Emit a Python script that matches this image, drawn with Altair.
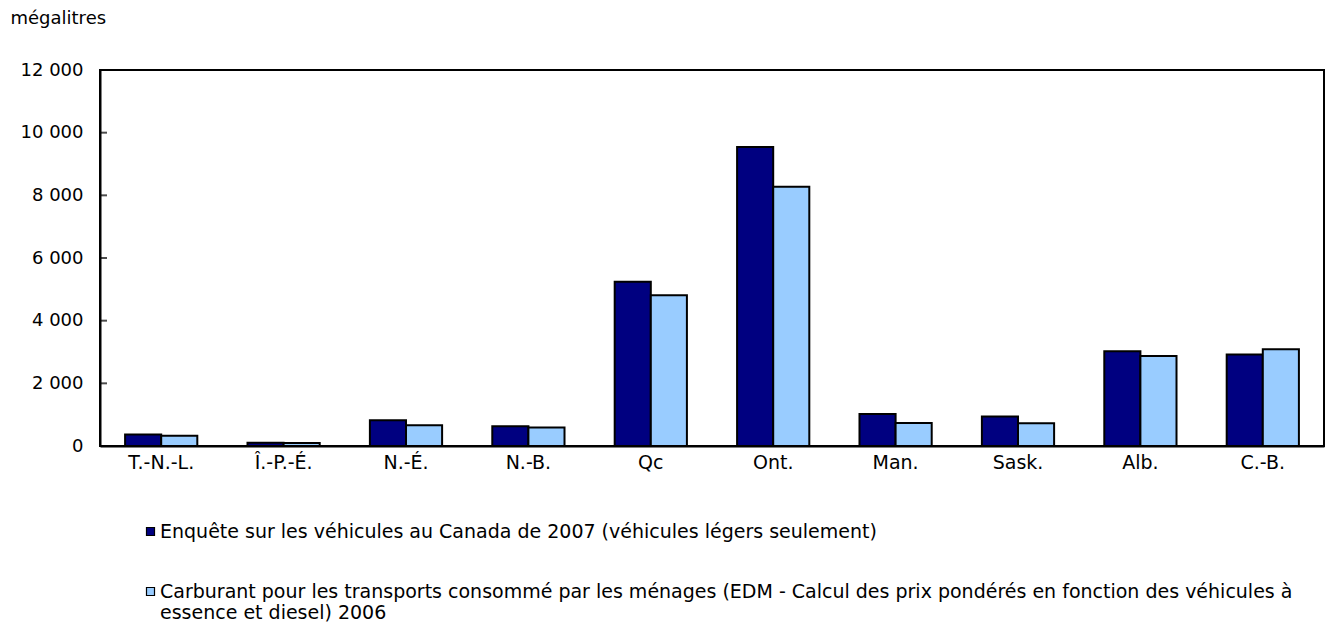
import altair as alt
import pandas as pd

provinces = ["T.-N.-L.", "Î.-P.-É.", "N.-É.", "N.-B.", "Qc", "Ont.", "Man.", "Sask.", "Alb.", "C.-B."]
series_names = [
    "Enquête sur les véhicules au Canada de 2007 (véhicules légers seulement)",
    "Carburant pour les transports consommé par les ménages (EDM - Calcul des prix pondérés en fonction des véhicules à essence et diesel) 2006",
]
evc_values = [370, 100, 820, 630, 5240, 9540, 1020, 940, 3020, 2920]
edm_values = [325, 95, 660, 590, 4810, 8270, 735, 725, 2870, 3090]
y_ticks = [0, 2000, 4000, 6000, 8000, 10000, 12000]
colors = ["#000080", "#99CCFF"]

rows = []
for p, a, b in zip(provinces, evc_values, edm_values):
    rows.append({"province": p, "series": series_names[0], "value": a})
    rows.append({"province": p, "series": series_names[1], "value": b})
df = pd.DataFrame(rows)

FONT = "DejaVu Sans"

label_expr = (
    "datum.label == '" + series_names[1] + "' ? "
    "['Carburant pour les transports consommé par les ménages (EDM - Calcul des prix pondérés en fonction des véhicules à', "
    "'essence et diesel) 2006'] : datum.label"
)

bars = alt.Chart(df).mark_bar(stroke="black", strokeWidth=2).encode(
    x=alt.X("province:N", sort=provinces,
            scale=alt.Scale(paddingInner=0.41, paddingOuter=0.205),
            axis=alt.Axis(title=None, labelAngle=0, labelFont=FONT, labelFontSize=19,
                          labelColor="black", labelPadding=7, ticks=False,
                          domain=True, domainColor="black", domainWidth=2)),
    xOffset=alt.XOffset("series:N", sort=series_names),
    y=alt.Y("value:Q", scale=alt.Scale(domain=[0, 12000], nice=False),
            axis=alt.Axis(values=y_ticks, title="mégalitres", titleAngle=0,
                          titleAlign="left", titleBaseline="middle",
                          titleX=-90, titleY=-52, titleFont=FONT, titleFontSize=18,
                          titleFontWeight="normal", titleColor="black",
                          labelFont=FONT, labelFontSize=18, labelColor="black",
                          labelPadding=17,
                          labelExpr="replace(format(datum.value, ','), ',', ' ')",
                          ticks=False, grid=False, domain=True,
                          domainColor="black", domainWidth=2)),
    color=alt.Color("series:N", sort=series_names,
                    scale=alt.Scale(domain=series_names, range=colors),
                    legend=alt.Legend(title=None, orient="none", legendX=41, legendY=452,
                                      direction="vertical", symbolType="square",
                                      symbolSize=64, symbolStrokeColor="black",
                                      symbolStrokeWidth=1.2, symbolOpacity=1,
                                      labelFont=FONT, labelFontSize=19, labelColor="black",
                                      labelLimit=1250, labelOffset=0, rowPadding=40,
                                      labelBaseline="middle",
                                      labelExpr=label_expr)),
)

tick_df = pd.DataFrame({"t": y_ticks})
ticks = alt.Chart(tick_df).mark_tick(color="black", thickness=2, size=7, orient="horizontal").encode(
    y=alt.Y("t:Q"),
    x=alt.value(3.5),
)

chart = alt.layer(bars, ticks).properties(
    width=1224, height=376,
    background="white",
    autosize=alt.AutoSizeParams(type="none"),
    padding={"left": 92, "top": 62, "right": 12, "bottom": 178},
).configure_view(stroke="black", strokeWidth=2)

chart.save("out.html", embed_options={"renderer": "svg", "actions": False})
